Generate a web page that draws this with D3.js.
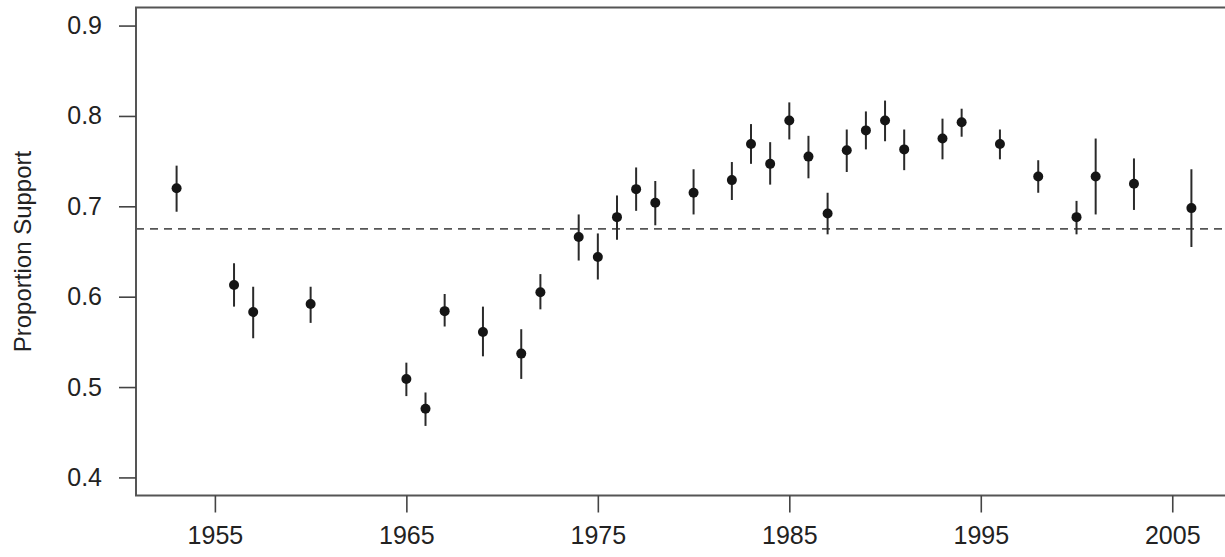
<!DOCTYPE html>
<html>
<head>
<meta charset="utf-8">
<script src="https://cdn.jsdelivr.net/npm/d3@7"></script>
<style>
  html, body { margin: 0; padding: 0; background: #fff; }
  svg { display: block; }
  text { font-family: "Liberation Sans", Arial, Helvetica, sans-serif; fill: #222; }
</style>
</head>
<body>
<svg id="chart" width="1225" height="557"></svg>
<script>
// ---- data ----
const years = [1953, 1956, 1957, 1960, 1965, 1966, 1967, 1969, 1971, 1972,
               1974, 1975, 1976, 1977, 1978, 1980, 1982, 1983, 1984, 1985,
               1986, 1987, 1988, 1989, 1990, 1991, 1993, 1994, 1996, 1998,
               2000, 2001, 2003, 2006];
const support = [0.720, 0.613, 0.583, 0.592, 0.509, 0.476, 0.584, 0.561, 0.537, 0.605,
                 0.666, 0.644, 0.688, 0.719, 0.704, 0.715, 0.729, 0.769, 0.747, 0.795,
                 0.755, 0.692, 0.762, 0.784, 0.795, 0.763, 0.775, 0.793, 0.769, 0.733,
                 0.688, 0.733, 0.725, 0.698];
const lower = [0.694, 0.589, 0.554, 0.571, 0.490, 0.457, 0.567, 0.534, 0.509, 0.586,
               0.640, 0.619, 0.663, 0.695, 0.679, 0.691, 0.707, 0.747, 0.724, 0.774,
               0.731, 0.669, 0.738, 0.763, 0.772, 0.740, 0.752, 0.777, 0.752, 0.715,
               0.669, 0.691, 0.696, 0.655];
const upper = [0.745, 0.637, 0.611, 0.611, 0.527, 0.494, 0.603, 0.589, 0.564, 0.625,
               0.691, 0.670, 0.712, 0.743, 0.728, 0.741, 0.749, 0.791, 0.771, 0.815,
               0.778, 0.715, 0.785, 0.805, 0.817, 0.785, 0.797, 0.808, 0.785, 0.751,
               0.706, 0.775, 0.753, 0.741];
const referenceLevel = 0.675;
const xTicks = [1955, 1965, 1975, 1985, 1995, 2005];
const yTicks = [0.4, 0.5, 0.6, 0.7, 0.8, 0.9];
const yLabel = "Proportion Support";

// ---- layout ----
const svg = d3.select("#chart");
const pLeft = 136, pRight = 1232, pTop = 7.5, pBottom = 495.5;

const xr = d3.extent(years);
const xpad = (xr[1] - xr[0]) * 0.04;
const x = d3.scaleLinear().domain([xr[0] - xpad, xr[1] + xpad]).range([pLeft, pRight]);
const ypad = (0.9 - 0.4) * 0.04;
const y = d3.scaleLinear().domain([0.4 - ypad, 0.9 + ypad]).range([pBottom, pTop]);

const data = years.map((yr, i) => ({ yr, v: support[i], lo: lower[i], hi: upper[i] }));

// reference dashed line
svg.append("line")
  .attr("x1", pLeft).attr("x2", pRight)
  .attr("y1", y(referenceLevel)).attr("y2", y(referenceLevel))
  .attr("stroke", "#555").attr("stroke-width", 1.6)
  .attr("stroke-dasharray", "8,6");

// error bars
svg.append("g").selectAll("line").data(data).join("line")
  .attr("x1", d => x(d.yr)).attr("x2", d => x(d.yr))
  .attr("y1", d => y(d.lo)).attr("y2", d => y(d.hi))
  .attr("stroke", "#2a2a2a").attr("stroke-width", 2);

// points
svg.append("g").selectAll("circle").data(data).join("circle")
  .attr("cx", d => x(d.yr)).attr("cy", d => y(d.v))
  .attr("r", 5).attr("fill", "#151515");

// box
svg.append("rect")
  .attr("x", pLeft).attr("y", pTop)
  .attr("width", pRight - pLeft).attr("height", pBottom - pTop)
  .attr("fill", "none").attr("stroke", "#555").attr("stroke-width", 2);

// axes
const xAxis = d3.axisBottom(x).tickValues(xTicks).tickFormat(d3.format("d"))
  .tickSize(17).tickPadding(14);
const gx = svg.append("g").attr("transform", `translate(0,${pBottom})`).call(xAxis);
gx.select(".domain").remove();
gx.selectAll(".tick line").attr("stroke", "#444").attr("stroke-width", 1.6);
gx.selectAll(".tick text").style("font-size", "25px").attr("fill", "#222")
  .style("font-family", "'Liberation Sans', Arial, sans-serif");

const yAxis = d3.axisLeft(y).tickValues(yTicks).tickFormat(d3.format(".1f"))
  .tickSize(17).tickPadding(17);
const gy = svg.append("g").attr("transform", `translate(${pLeft},0)`).call(yAxis);
gy.select(".domain").remove();
gy.selectAll(".tick line").attr("stroke", "#444").attr("stroke-width", 1.6);
gy.selectAll(".tick text").style("font-size", "25px").attr("fill", "#222")
  .style("font-family", "'Liberation Sans', Arial, sans-serif");

// y label
svg.append("text")
  .attr("transform", `translate(31,${(pTop + pBottom) / 2}) rotate(-90)`)
  .attr("text-anchor", "middle")
  .style("font-size", "24px")
  .text(yLabel);
</script>
</body>
</html>
